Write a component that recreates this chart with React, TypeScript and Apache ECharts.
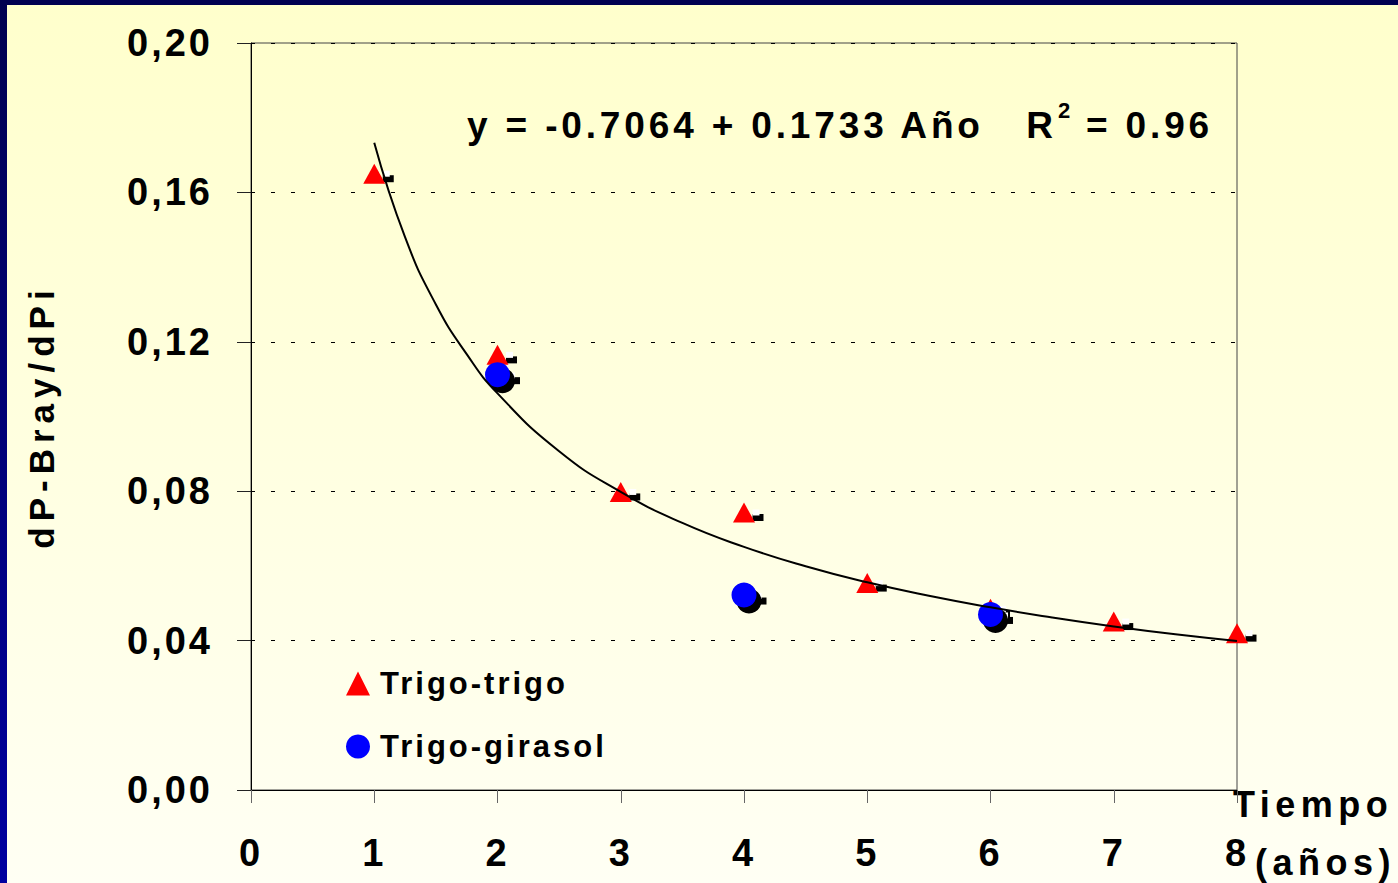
import React, { useEffect, useRef } from "react";
import * as echarts from "echarts";

// ---- data ----
const yearsTT = [1, 2, 3, 4, 5, 6, 7, 8];
const trigoTrigo = [0.165, 0.1165, 0.0798, 0.0743, 0.0554, 0.0485, 0.0451, 0.042];
const yearsTG = [2, 4, 6];
const trigoGirasol = [0.1112, 0.0522, 0.047];
const curveX = [1, 1.25, 1.5, 1.75, 2, 2.5, 3, 3.5, 4, 4.5, 5, 5.5, 6, 6.5, 7, 7.5, 8];
const curveY = [0.1733, 0.148, 0.130, 0.1167, 0.1062, 0.0907, 0.0798, 0.0715, 0.0651, 0.0599, 0.0556, 0.052, 0.0489, 0.0462, 0.0438, 0.0417, 0.0399];
const yTicks = { min: 0, max: 0.2, interval: 0.04 };
const xTicks = { min: 0, max: 8, interval: 1 };
const equationMain = "y = -0.7064 + 0.1733 Año   R";
const equationSup = "2";
const equationEnd = "= 0.96";
const yTitle = "dP-Bray/dPi";
const xTitle1 = "Tiempo";
const xTitle2 = "(años)";
const seriesNames = ["Trigo-trigo", "Trigo-girasol"];

const FONT = "'Liberation Sans', Arial, sans-serif";

const css = `
.chartroot text[style*="38px"]{letter-spacing:3px;}
.chartroot text[style*="37px"]{letter-spacing:3.85px;}
.chartroot text[style*="35px"]{letter-spacing:6px;}
.chartroot text[style*="31px"]{letter-spacing:3px;}
.chartroot text[style*="36px"]{letter-spacing:5.5px;}
`;

function pts(xs: number[], ys: number[]) {
  return xs.map((x, i) => [x, ys[i]]);
}

export default function App() {
  const ref = useRef<HTMLDivElement>(null);
  useEffect(() => {
    document.body.style.margin = "0";
    const chart = echarts.init(ref.current!, null, { renderer: "svg" });
    const tt = pts(yearsTT, trigoTrigo);
    const tg = pts(yearsTG, trigoGirasol);
    const txt = (x: number, y: number, text: string, size: number, align: string) => ({
      type: "text", x, y, silent: true,
      style: {
        text, fontSize: size, fontWeight: "bold", fontFamily: FONT, fill: "#000",
        align, textAlign: align, verticalAlign: "middle", textVerticalAlign: "middle",
      },
    });
    const option: any = {
      animation: false,
      backgroundColor: "transparent",
      grid: {
        left: 251, right: 161, top: 43, bottom: 93,
        show: true, borderColor: "#444", borderWidth: 1, backgroundColor: "transparent",
      },
      legend: {
        orient: "vertical",
        left: 341,
        top: 663,
        itemWidth: 24,
        itemHeight: 24,
        itemGap: 32,
        data: [
          { name: seriesNames[0], icon: "triangle" },
          { name: seriesNames[1], icon: "circle" },
        ],
        textStyle: { fontSize: 31, fontWeight: "bold", fontFamily: FONT, color: "#000", padding: [0, 0, 0, 5] },
        selectedMode: false,
      },
      xAxis: {
        type: "value",
        min: xTicks.min,
        max: xTicks.max,
        interval: xTicks.interval,
        axisLine: { show: true, lineStyle: { color: "#000", width: 1 } },
        axisTick: { show: true, length: 13, lineStyle: { color: "#666" } },
        axisLabel: { fontSize: 38, fontWeight: "bold", fontFamily: FONT, color: "#000", margin: 44 },
        splitLine: { show: false },
      },
      yAxis: {
        type: "value",
        min: yTicks.min,
        max: yTicks.max,
        interval: yTicks.interval,
        name: yTitle,
        nameLocation: "middle",
        nameRotate: 90,
        nameGap: 192,
        nameTextStyle: { fontSize: 35, fontWeight: "bold", fontFamily: FONT, color: "#000" },
        axisLine: { show: true, lineStyle: { color: "#000", width: 1 } },
        axisTick: { show: true, length: 14, lineStyle: { color: "#222" } },
        axisLabel: {
          fontSize: 38, fontWeight: "bold", fontFamily: FONT, color: "#000", margin: 38,
          formatter: (v: number) => v.toFixed(2).replace(".", ","),
        },
        splitLine: { show: true, lineStyle: { color: "#000", type: [4, 16], width: 1 } },
      },
      graphic: [
        txt(467, 125, equationMain, 37, "left"),
        txt(1058, 110, equationSup, 22, "left"),
        txt(1213, 125, equationEnd, 37, "right"),
        txt(1233, 804, xTitle1, 36, "left"),
        txt(1255, 862, xTitle2, 36, "left"),
      ],
      series: [
        {
          name: "tt-shadow-black", type: "scatter", data: tt, symbol: "rect",
          symbolSize: [11, 7], symbolOffset: [14, 5], itemStyle: { color: "#000", opacity: 1 }, silent: true, z: 2,
        },
        {
          name: "tt-shadow-white", type: "scatter", data: tt, symbol: "rect",
          symbolSize: [7, 6], symbolOffset: [12, 0], itemStyle: { color: "#fff", opacity: 1 }, silent: true, z: 2,
        },
        {
          name: seriesNames[0], type: "scatter", data: tt, symbol: "triangle",
          symbolSize: [22, 20], itemStyle: { color: "#FF0000", opacity: 1 }, z: 3,
        },
        {
          name: "tg-shadow-rect", type: "scatter", data: tg, symbol: "rect",
          symbolSize: [9, 7], symbolOffset: [18, 6], itemStyle: { color: "#000", opacity: 1 }, silent: true, z: 4,
        },
        {
          name: "tg-shadow-white", type: "scatter", data: tg, symbol: "rect",
          symbolSize: [5, 6], symbolOffset: [15, 1], itemStyle: { color: "#fff", opacity: 1 }, silent: true, z: 4,
        },
        {
          name: "tg-shadow", type: "scatter", data: tg, symbol: "circle",
          symbolSize: 25, symbolOffset: [5, 6], itemStyle: { color: "#000", opacity: 1 }, silent: true, z: 4,
        },
        {
          name: seriesNames[1], type: "scatter", data: tg, symbol: "circle",
          symbolSize: 25, itemStyle: { color: "#0000FF", opacity: 1 }, z: 5,
        },
        {
          name: "fit", type: "line", data: pts(curveX, curveY), smooth: true,
          showSymbol: false, symbol: "none", silent: true,
          lineStyle: { color: "#000", width: 2 }, z: 6,
        },
      ],
    };
    chart.setOption(option);
    return () => chart.dispose();
  }, []);
  return (
    <div style={{ position: "fixed", left: 0, top: 0, width: 1398, height: 883, background: "linear-gradient(#000050, #0000a0)" }}>
      <style>{css}</style>
      <div style={{ position: "absolute", left: 7, top: 5, right: 0, bottom: 0, background: "linear-gradient(#FFFFCC, #FFFFF4)" }} />
      <div ref={ref} className="chartroot" style={{ position: "absolute", left: 0, top: 0, width: 1398, height: 883 }} />
    </div>
  );
}
